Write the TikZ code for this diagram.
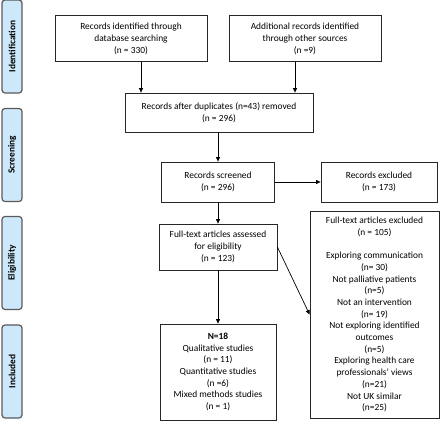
\documentclass[tikz,border=0pt]{standalone}
\usepackage{fontspec}
\setmainfont{Carlito}
\usepackage{tikz}
\usetikzlibrary{arrows.meta, positioning}
\definecolor{stagefill}{HTML}{CDE8FA}
\definecolor{stageline}{HTML}{5A5A5A}

\begin{document}
\begin{tikzpicture}[x=1pt,y=-1pt,
    font=\fontsize{9.4}{11.7}\selectfont,
    box/.style={draw=black!85,line width=0.8pt,align=center,inner sep=1pt},
    stage/.style={draw=stageline,fill=stagefill,line width=1.2pt,rounded corners=3pt,
      minimum width=93pt,minimum height=20pt,rotate=90,font=\fontsize{9.4}{10}\selectfont\bfseries},
    arr/.style={-{Triangle[length=4.5pt,width=4pt]},line width=0.7pt}]
      \useasboundingbox (0,0) rectangle (440,421);
      \node[stage] (s_id) at (12,46.5) {Identification};
      \node[stage] (s_sc) at (12,155) {Screening};
      \node[stage] (s_el) at (12,263) {Eligibility};
      \node[stage] (s_in) at (12,371.5) {Included};
      \node[box, minimum width=152pt, minimum height=46pt] (db) at (131,38.8)
        {Records identified through\\database searching\\(n = 330)};
      \node[box, minimum width=152pt, minimum height=46pt] (other) at (305,38.8)
        {Additional records identified\\through other sources\\(n =9)};
      \node[box, minimum width=188pt, minimum height=39pt] (dup) at (219,112.5)
        {Records after duplicates (n=43) removed\\(n = 296)};
      \node[box, minimum width=113pt, minimum height=40pt] (scr) at (218,182)
        {Records screened\\(n = 296)};
      \node[box, minimum width=116pt, minimum height=40pt] (excl) at (379,182)
        {Records excluded\\(n = 173)};
      \node[box, minimum width=118pt, minimum height=46pt] (full) at (218,247)
        {Full-text articles assessed\\for eligibility\\(n = 123)};
      \node[box, minimum width=129pt, minimum height=207pt] (fexcl) at (374.5,314.5)
        {Full-text articles excluded\\(n = 105)\\[11.7pt]Exploring communication\\(n= 30)\\Not palliative patients\\(n=5)\\Not an intervention\\(n= 19)\\Not exploring identified\\outcomes\\(n=5)\\Exploring health care\\professionals’ views\\(n=21)\\Not UK similar\\(n=25)};
      \node[box, minimum width=116pt, minimum height=96pt] (incl) at (218,372)
        {\textbf{N=18}\\Qualitative studies\\(n = 11)\\Quantitative studies\\(n =6)\\Mixed methods studies\\(n = 1)};
      \draw[arr] ([xshift=10pt]db.south) -- ([xshift=10pt]db.south |- dup.north);
      \draw[arr] ([xshift=-10pt]other.south) -- ([xshift=-10pt]other.south |- dup.north);
      \draw[arr] (dup.south -| scr.north) -- (scr.north);
      \draw[arr] (scr) -- (excl);
      \draw[arr] (scr) -- (full);
      \draw[arr] (full) -- (incl);
      \draw[arr] (full.east) -- (fexcl.west);
    \end{tikzpicture}
\end{document}
